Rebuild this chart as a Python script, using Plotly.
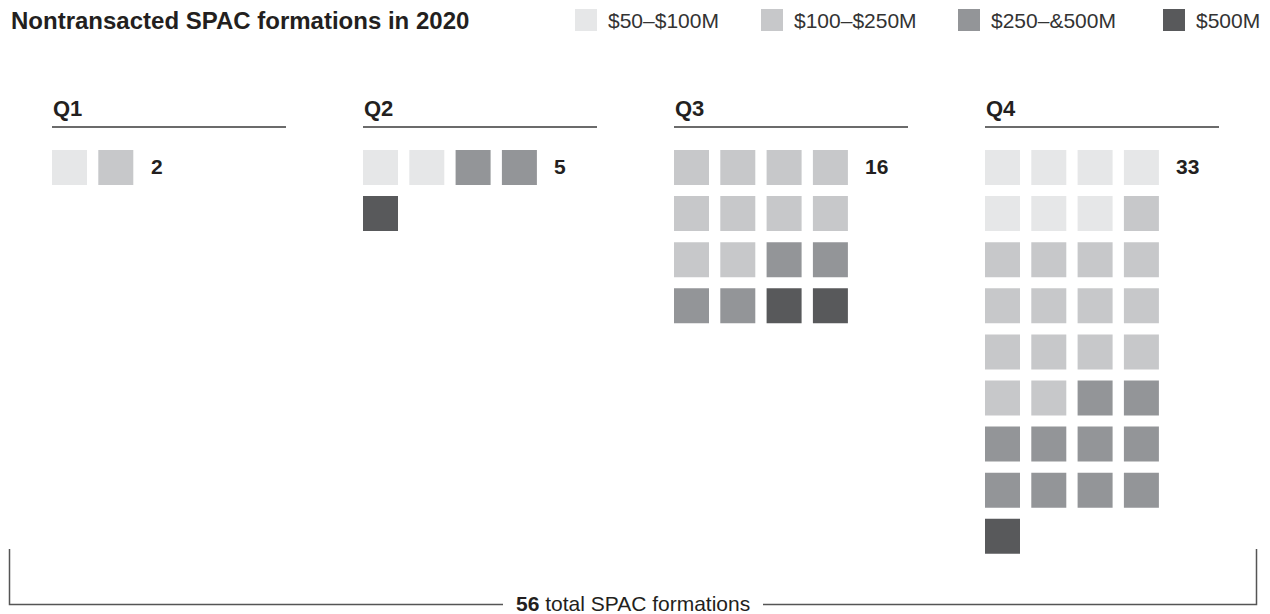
import plotly.graph_objects as go


# ==========================
# DATA
# ==========================

quarters = ["Q1", "Q2", "Q3", "Q4"]

bands = ["$50\u2013$100M", "$100\u2013$250M", "$250\u2013&500M", "$500M"]

# number of SPACs per size band, one list per quarter
q1_counts = [1, 1, 0, 0]
q2_counts = [2, 0, 2, 1]
q3_counts = [0, 10, 4, 2]
q4_counts = [7, 15, 10, 1]

title_text = "Nontransacted SPAC formations in 2020"


# ==========================
# STYLE / GEOMETRY
# ==========================

W, H = 1270, 614
FONT = "Liberation Sans, Arial, sans-serif"
INK = "#231f20"
COLORS = ["#e6e7e8", "#c7c8ca", "#939598", "#58595b"]

PANEL_X0 = 52
PANEL_STEP = 311
COL_STEP = 46.3
ROW_STEP = 46.1
CELL = 35
GRID_TOP = 150
COLS = 4
RULE_LEN = 234

LEGEND_X = [575, 761, 958, 1163]
LEGEND_Y = 20

BRACKET_L, BRACKET_R = 9.5, 1256.5
BRACKET_TOP, BRACKET_Y = 549, 604.5
TEXT_GAP = 130


all_counts = [q1_counts, q2_counts, q3_counts, q4_counts]

fig = go.Figure()

# one trace per size band, cells laid out row by row per quarter
for b, band in enumerate(bands):
    xs, ys = [], []
    for q, counts in enumerate(all_counts):
        start = sum(counts[:b])
        for k in range(start, start + counts[b]):
            row, col = divmod(k, COLS)
            xs.append(PANEL_X0 + q * PANEL_STEP + col * COL_STEP + CELL / 2)
            ys.append(GRID_TOP + row * ROW_STEP + CELL / 2)
    fig.add_trace(go.Scatter(
        x=xs, y=ys, mode="markers", name=band,
        marker=dict(symbol="square", size=CELL, color=COLORS[b], line_width=0),
        hoverinfo="skip", showlegend=False
    ))

# legend drawn by hand
fig.add_trace(go.Scatter(
    x=[lx + 11 for lx in LEGEND_X], y=[LEGEND_Y] * len(bands), mode="markers",
    marker=dict(symbol="square", size=22, color=COLORS, line_width=0),
    hoverinfo="skip", showlegend=False
))

annotations = []
shapes = []

for lx, band in zip(LEGEND_X, bands):
    annotations.append(dict(
        x=lx + 31, y=LEGEND_Y, text=band, showarrow=False,
        xanchor="left", yanchor="middle",
        font=dict(family=FONT, size=21, color="#333333")
    ))

annotations.append(dict(
    x=9, y=LEGEND_Y, text="<b>" + title_text + "</b>", showarrow=False,
    xanchor="left", yanchor="middle",
    font=dict(family=FONT, size=24, color=INK)
))

# quarter headers, rules and totals
for q, (name, counts) in enumerate(zip(quarters, all_counts)):
    x0 = PANEL_X0 + q * PANEL_STEP
    total = sum(counts)
    annotations.append(dict(
        x=x0 - 1, y=108, text="<b>" + name + "</b>", showarrow=False,
        xanchor="left", yanchor="middle",
        font=dict(family=FONT, size=22, color=INK)
    ))
    shapes.append(dict(
        type="line", x0=x0, x1=x0 + RULE_LEN, y0=127, y1=127,
        line=dict(color="#3a3a3a", width=1.5)
    ))
    annotations.append(dict(
        x=x0 + min(total, COLS) * COL_STEP + 4, y=GRID_TOP + CELL / 2 - 1,
        text="<b>" + str(total) + "</b>", showarrow=False,
        xanchor="left", yanchor="middle",
        font=dict(family=FONT, size=21, color=INK)
    ))

# bottom bracket with the grand total
grand = sum(sum(c) for c in all_counts)
mid = (BRACKET_L + BRACKET_R) / 2
bracket_line = dict(color="#555555", width=1.5)
shapes.append(dict(
    type="path",
    path=f"M {BRACKET_L},{BRACKET_TOP} L {BRACKET_L},{BRACKET_Y} L {mid - TEXT_GAP},{BRACKET_Y}",
    line=bracket_line
))
shapes.append(dict(
    type="path",
    path=f"M {mid + TEXT_GAP},{BRACKET_Y} L {BRACKET_R},{BRACKET_Y} L {BRACKET_R},{BRACKET_TOP}",
    line=bracket_line
))
annotations.append(dict(
    x=mid, y=603, text="<b>" + str(grand) + "</b> total SPAC formations",
    showarrow=False, xanchor="center", yanchor="middle",
    font=dict(family=FONT, size=21, color=INK)
))

fig.update_layout(
    width=W, height=H,
    margin=dict(l=0, r=0, t=0, b=0),
    paper_bgcolor="white", plot_bgcolor="white",
    xaxis=dict(range=[0, W], visible=False, fixedrange=True),
    yaxis=dict(range=[H, 0], visible=False, fixedrange=True),
    shapes=shapes,
    annotations=annotations,
    showlegend=False
)

fig.write_html(
    "out.html",
    config={"displayModeBar": False},
    post_script="document.body.style.margin='0';document.body.style.overflow='hidden';"
)
